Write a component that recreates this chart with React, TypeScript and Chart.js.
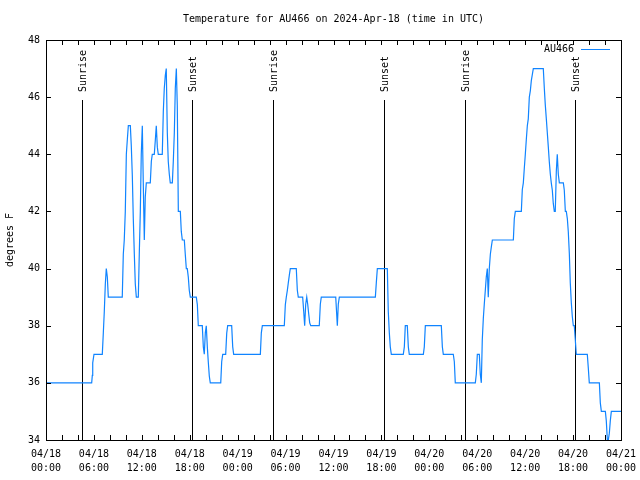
import React, { useEffect, useRef } from 'react';
import { Chart, registerables } from 'chart.js';

Chart.register(...registerables);

const TITLE = 'Temperature for AU466 on 2024-Apr-18 (time in UTC)';
const SERIES_NAME = 'AU466';
const Y_TITLE = 'degrees F';
const FONT_FAMILY = "'DejaVu Sans Mono', 'Liberation Mono', monospace";
const LINE_COLOR = 'rgb(16,132,255)';

// hours since 2024-04-18 00:00 UTC
const hours = [
  0.0, 5.72, 5.8, 5.85, 6.01, 7.05, 7.18, 7.3, 7.43, 7.55, 7.68, 7.8,
  9.55, 9.68, 9.8, 9.93, 10.06, 10.18, 10.31, 10.56, 10.68, 10.81, 10.93, 11.06, 11.18, 11.31,
  11.56, 11.68, 11.81, 11.93, 12.06, 12.18, 12.31, 12.43, 12.56, 13.06, 13.19, 13.31,
  13.56, 13.69, 13.81, 13.94, 14.06, 14.56, 14.69, 14.81, 14.94, 15.06, 15.19, 15.31, 15.44, 15.56,
  15.82, 15.94, 16.07, 16.19, 16.32, 16.44, 16.57, 16.82, 16.94, 17.07, 17.32, 17.44, 17.57,
  17.69, 17.82, 17.94, 18.07, 18.82, 18.95, 19.07, 19.57, 19.7, 19.82, 19.95, 20.07, 20.2,
  20.32, 20.45, 20.57, 21.88, 22.0, 22.13, 22.5, 22.63, 22.75, 23.25, 23.38, 23.5,
  26.84, 26.96, 27.09, 29.84, 29.97, 30.09, 30.22, 30.34, 30.47, 30.59, 31.34, 31.47, 31.59,
  32.14, 32.27, 32.39, 32.52, 32.65, 32.77, 32.9, 33.02, 33.15, 34.22, 34.35, 34.47,
  36.28, 36.4, 36.48, 36.6, 36.73, 41.24, 41.36, 41.49, 42.74, 42.86, 42.99, 43.11, 43.24,
  44.74, 44.87, 44.99, 45.24, 45.37, 45.49, 47.25, 47.37, 47.5, 49.5, 49.63, 49.75,
  51.0, 51.13, 51.25, 53.76, 53.88, 54.01, 54.26, 54.38, 54.51, 54.63, 54.76, 54.88, 55.01,
  55.13, 55.26, 55.38, 55.51, 55.64, 55.76, 55.89, 58.52, 58.64, 58.77, 59.52, 59.64, 59.77,
  59.89, 60.02, 60.14, 60.27, 60.39, 60.52, 60.65, 60.77, 60.9, 61.02, 62.27, 62.4, 62.52,
  62.65, 62.77, 62.9, 63.02, 63.15, 63.27, 63.4, 63.52, 63.65, 63.77, 63.9, 64.02, 64.15,
  64.28, 64.78, 64.9, 65.03, 65.15, 65.28, 65.4, 65.53, 65.65, 65.78, 65.9, 66.03, 66.15,
  66.28, 66.4, 67.78, 67.91, 68.03, 69.29, 69.41, 69.54, 70.04, 70.16, 70.29, 70.41, 70.54,
  70.66, 70.79, 72.0,
];

const tempsF = [
  36, 36, 36.26, 36.7, 37, 37, 37.76, 38.5, 39.47, 40, 39.7, 39,
  39, 40.5, 41, 42, 44, 44.5, 45, 45, 44.3, 43.24, 41.75, 40.5, 39.47, 39,
  39, 40.5, 42, 44, 45, 43, 41, 42.5, 43, 43, 43.75, 44,
  44, 44.5, 45, 44.25, 44, 44, 45.5, 46.3, 46.76, 47, 44.76, 43.75, 43.3, 43,
  43, 43.75, 44.76, 46.3, 47, 45.7, 42, 42, 41.3, 41, 41, 40.5, 40,
  40, 39.7, 39.24, 39, 39, 38.74, 38, 38, 37.26, 37, 37.75, 38, 37.26,
  36.74, 36.23, 36, 36, 36.74, 37, 37, 37.74, 38, 38, 37.26, 37,
  37, 37.74, 38, 38, 38.74, 39, 39.24, 39.5, 39.77, 40, 40, 39.24, 39,
  39, 38.5, 38, 38.75, 39, 38.75, 38.4, 38.1, 38, 38, 38.75, 39,
  39, 38.4, 38, 38.75, 39, 39, 39.5, 40, 40, 38.5, 37.75, 37.26, 37,
  37, 37.26, 38, 38, 37.26, 37, 37, 37.26, 38, 38, 37.26, 37,
  37, 36.74, 36, 36, 36.3, 37, 37, 36.3, 36, 37.5, 38.25, 38.75, 39.24,
  39.7, 40, 39, 40, 40.5, 40.75, 41, 41, 41.75, 42, 42, 42.76, 43,
  43.5, 44, 44.5, 45, 45.24, 46, 46.23, 46.58, 46.8, 47, 47, 46.3, 45.73,
  45.24, 44.76, 44.25, 43.75, 43.3, 43, 42.74, 42.28, 42, 42, 43.4, 44, 43.3,
  43, 43, 42.74, 42, 42, 41.75, 41.29, 40.53, 39.5, 38.8, 38.33, 38, 38,
  37.5, 37, 37, 36.5, 36, 36, 35.3, 35, 35, 34.67, 34, 34, 34.24,
  34.67, 35, 35,
];

const sunHours = [4.55, 18.32, 28.46, 42.36, 52.5, 66.28];
const sunLabels = ['Sunrise', 'Sunset', 'Sunrise', 'Sunset', 'Sunrise', 'Sunset'];

const xTickHours = [0, 6, 12, 18, 24, 30, 36, 42, 48, 54, 60, 66, 72];
const xTickDates = ['04/18', '04/18', '04/18', '04/18', '04/19', '04/19', '04/19', '04/19', '04/20', '04/20', '04/20', '04/20', '04/21'];
const xTickTimes = ['00:00', '06:00', '12:00', '18:00', '00:00', '06:00', '12:00', '18:00', '00:00', '06:00', '12:00', '18:00', '00:00'];
const yTicks = [34, 36, 38, 40, 42, 44, 46, 48];
const X_MIN = 0;
const X_MAX = 72;
const X_MINOR_STEP = 2;
const Y_MIN = 34;
const Y_MAX = 48;

const SUN_LINE_TOP = 0.85; // graph fraction
const SUN_LABEL_POS = 0.87;
const TICK_LEN = 5;

const decorPlugin = {
  id: 'gnuplotDecor',
  beforeDatasetsDraw(chart: any) {
    const { ctx, chartArea, scales } = chart;
    const h = chartArea.bottom - chartArea.top;
    ctx.save();
    ctx.strokeStyle = '#000';
    ctx.lineWidth = 1;
    ctx.fillStyle = '#000';
    ctx.font = `10px ${FONT_FAMILY}`;
    sunHours.forEach((t, i) => {
      const x = Math.round(scales.x.getPixelForValue(t)) + 0.5;
      const yTop = chartArea.bottom - SUN_LINE_TOP * h;
      ctx.beginPath();
      ctx.moveTo(x, chartArea.bottom);
      ctx.lineTo(x, yTop);
      ctx.stroke();
      const yLab = chartArea.bottom - SUN_LABEL_POS * h;
      ctx.save();
      ctx.translate(x + 1, yLab);
      ctx.rotate(-Math.PI / 2);
      ctx.textAlign = 'left';
      ctx.textBaseline = 'middle';
      ctx.fillText(sunLabels[i], 0, 0);
      ctx.restore();
    });
    ctx.restore();
  },
  afterDraw(chart: any) {
    const { ctx, chartArea, scales } = chart;
    const { left, right, top, bottom } = chartArea;
    ctx.save();
    ctx.strokeStyle = '#000';
    ctx.lineWidth = 1;
    ctx.strokeRect(Math.round(left) + 0.5, Math.round(top) + 0.5, Math.round(right - left), Math.round(bottom - top));
    ctx.beginPath();
    for (let v = X_MIN; v <= X_MAX; v += X_MINOR_STEP) {
      const x = Math.round(scales.x.getPixelForValue(v)) + 0.5;
      ctx.moveTo(x, bottom);
      ctx.lineTo(x, bottom - TICK_LEN);
      ctx.moveTo(x, top);
      ctx.lineTo(x, top + TICK_LEN);
    }
    yTicks.forEach((v) => {
      const y = Math.round(scales.y.getPixelForValue(v)) + 0.5;
      ctx.moveTo(left, y);
      ctx.lineTo(left + TICK_LEN, y);
      ctx.moveTo(right, y);
      ctx.lineTo(right - TICK_LEN, y);
    });
    ctx.stroke();

    ctx.fillStyle = '#000';
    ctx.font = `10px ${FONT_FAMILY}`;
    ctx.textAlign = 'center';
    ctx.textBaseline = 'middle';
    ctx.fillText(TITLE, (left + right) / 2, 19);
    ctx.save();
    ctx.translate(10, (top + bottom) / 2);
    ctx.rotate(-Math.PI / 2);
    ctx.textAlign = 'center';
    ctx.textBaseline = 'middle';
    ctx.fillText(Y_TITLE, 0, 0);
    ctx.restore();
    const ly = top + 9.5;
    ctx.textAlign = 'right';
    ctx.fillText(SERIES_NAME, right - 47, ly);
    ctx.strokeStyle = LINE_COLOR;
    ctx.beginPath();
    ctx.moveTo(right - 40, ly);
    ctx.lineTo(right - 11, ly);
    ctx.stroke();
    ctx.restore();
  },
};

export default function App() {
  const canvasRef = useRef<HTMLCanvasElement | null>(null);

  useEffect(() => {
    if (!canvasRef.current) return;
    const font = { family: FONT_FAMILY, size: 10, lineHeight: 1.4 };
    const chart = new Chart(canvasRef.current, {
      type: 'line',
      data: {
        datasets: [
          {
            label: SERIES_NAME,
            data: hours.map((h, i) => ({ x: h, y: tempsF[i] })),
            borderColor: LINE_COLOR,
            borderWidth: 1.2,
            pointRadius: 0,
            tension: 0,
            fill: false,
          },
        ],
      },
      options: {
        responsive: false,
        animation: false,
        events: [],
        layout: { padding: { left: 0, right: 19, top: 40, bottom: 0 } },
        plugins: {
          legend: { display: false },
          tooltip: { enabled: false },
          title: { display: false },
        },
        scales: {
          x: {
            type: 'linear',
            min: X_MIN,
            max: X_MAX,
            afterBuildTicks: (s: any) => {
              s.ticks = xTickHours.map((v) => ({ value: v }));
            },
            afterFit: (s: any) => {
              s.height = 40;
              s.paddingLeft = 0;
              s.paddingRight = 0;
            },
            grid: { display: false, drawTicks: false },
            border: { display: false },
            ticks: {
              padding: 7,
              maxRotation: 0,
              autoSkip: false,
              color: '#000',
              font,
              callback: (v: any) => {
                const i = xTickHours.indexOf(Number(v));
                return i >= 0 ? [xTickDates[i], xTickTimes[i]] : '';
              },
            },
          },
          y: {
            type: 'linear',
            min: Y_MIN,
            max: Y_MAX,
            afterBuildTicks: (s: any) => {
              s.ticks = yTicks.map((v) => ({ value: v }));
            },
            afterFit: (s: any) => {
              s.width = 46;
              s.paddingTop = 0;
              s.paddingBottom = 0;
            },
            grid: { display: false, drawTicks: false },
            border: { display: false },
            ticks: {
              padding: 6,
              color: '#000',
              font: { family: FONT_FAMILY, size: 10 },
              callback: (v: any) => String(v),
            },
          },
        },
      },
      plugins: [decorPlugin],
    });
    return () => chart.destroy();
  }, []);

  return (
    <div style={{ position: 'fixed', left: 0, top: 0, width: 640, height: 480, background: '#fff' }}>
      <canvas ref={canvasRef} width={640} height={480} />
    </div>
  );
}
